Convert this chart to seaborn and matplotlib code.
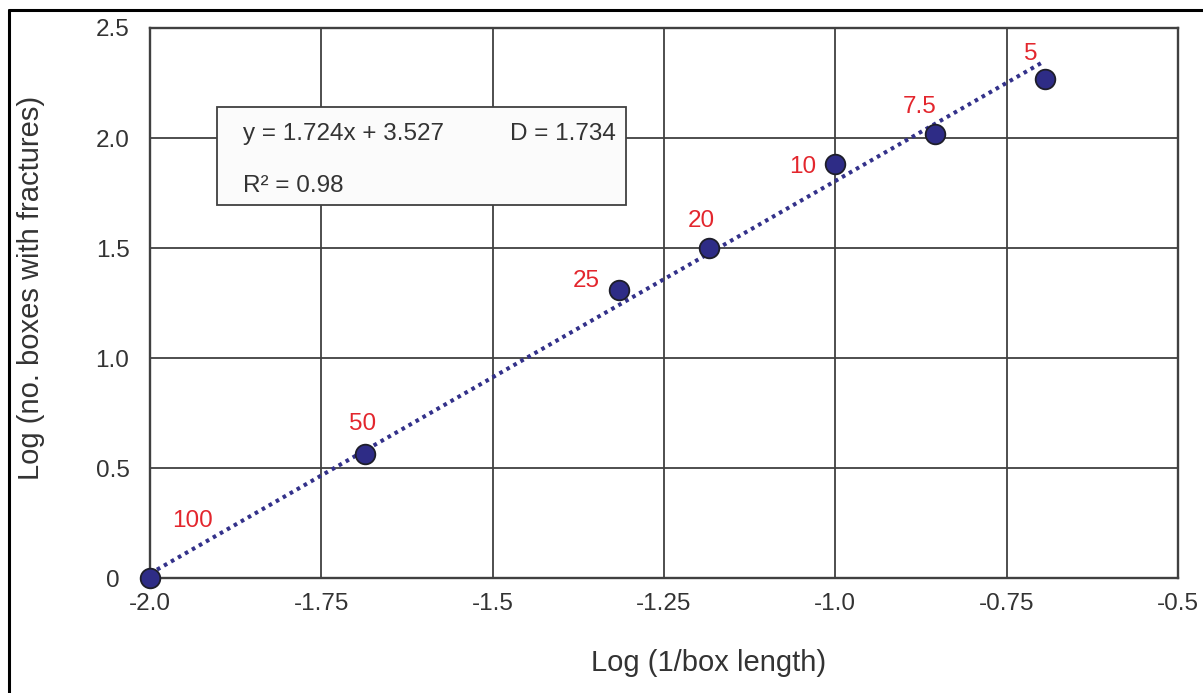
import matplotlib
matplotlib.use("Agg")
import matplotlib.pyplot as plt
import seaborn as sns
import pandas as pd
from matplotlib.patches import Rectangle
from matplotlib.lines import Line2D

# ---- data ----
box_lengths = ["100", "50", "25", "20", "10", "7.5", "5"]
log_inv_len = [-2.0, -1.687, -1.315, -1.184, -1.0, -0.855, -0.694]
log_n_boxes = [0.0, 0.563, 1.307, 1.50, 1.881, 2.018, 2.268]

label_x = [-1.938, -1.69, -1.364, -1.196, -1.047, -0.877, -0.715]
label_y = [0.26, 0.70, 1.35, 1.624, 1.87, 2.143, 2.38]

trend_x = [-2.0, -0.70]
trend_y = [0.02, 2.34]

x_ticks = [-2.0, -1.75, -1.5, -1.25, -1.0, -0.75, -0.5]
x_tick_labels = ["-2.0", "-1.75", "-1.5", "-1.25", "-1.0", "-0.75", "-0.5"]
y_ticks = [0.0, 0.5, 1.0, 1.5, 2.0, 2.5]
y_tick_labels = ["0", "0.5", "1.0", "1.5", "2.0", "2.5"]

eq_text = "y = 1.724x + 3.527"
d_text = "D = 1.734"
r2_text = "R² = 0.98"

df = pd.DataFrame({"x": log_inv_len, "y": log_n_boxes, "L": box_lengths})
trend = pd.DataFrame({"x": trend_x, "y": trend_y})

sns.set_theme(style="white")
plt.rcParams["font.family"] = ["Liberation Sans", "DejaVu Sans"]

fig = plt.figure(figsize=(12.03, 6.93), dpi=100)
ax = fig.add_axes([0.1247, 0.1659, 0.8545, 0.7937])

grid_c = "#404040"
ax.set_xlim(-2.0, -0.5)
ax.set_ylim(0, 2.5)
ax.set_xticks(x_ticks)
ax.set_xticklabels(x_tick_labels)
ax.set_yticks(y_ticks)
ax.set_yticklabels(y_tick_labels)
ax.grid(True, color=grid_c, linewidth=1.3, zorder=0)
ax.set_axisbelow(True)
for s in ax.spines.values():
    s.set_color(grid_c)
    s.set_linewidth(1.7)
    s.set_visible(True)

ax.tick_params(axis="x", length=3, color=grid_c, pad=8, labelsize=17.5, labelcolor="#333333")
ax.tick_params(axis="y", length=0, pad=27, labelsize=17.5, labelcolor="#333333")
for lab in ax.get_yticklabels():
    lab.set_horizontalalignment("center")

# trend line
sns.lineplot(data=trend, x="x", y="y", ax=ax, color="#33318a", linewidth=2.9,
             linestyle=(0, (0.9, 1.1)), zorder=3, legend=False)

# points
sns.scatterplot(data=df, x="x", y="y", ax=ax, s=200, color="#2e2c86",
                edgecolor="#1e1e2a", linewidth=1.3, zorder=4, clip_on=False, legend=False)

for t, lx, ly in zip(box_lengths, label_x, label_y):
    ax.text(lx, ly, t, color="#e3262d", fontsize=17.5, ha="center", va="center", zorder=5)

# equation box
ax.add_patch(Rectangle((0.065, 0.678), 0.398, 0.178, transform=ax.transAxes,
                       facecolor="#fbfbfb", edgecolor=grid_c, linewidth=1.3, zorder=6))
ax.text(0.090, 0.807, eq_text, transform=ax.transAxes, fontsize=17.5, color="#333333",
        ha="left", va="center", zorder=7)
ax.text(0.453, 0.807, d_text, transform=ax.transAxes, fontsize=17.5, color="#333333",
        ha="right", va="center", zorder=7)
ax.text(0.090, 0.713, r2_text, transform=ax.transAxes, fontsize=17.5, color="#333333",
        ha="left", va="center", zorder=7)

ax.set_xlabel("")
ax.set_ylabel("")
fig.text(709 / 1203, 1 - 663 / 693, "Log (1/box length)", fontsize=21, color="#333333",
         ha="center", va="center")
fig.text(31 / 1203, 1 - 288 / 693, "Log (no. boxes with fractures)", fontsize=21,
         color="#333333", ha="center", va="center", rotation=90)

# figure frame (top and left)
fig.add_artist(Line2D([9 / 1203, 1.0], [1 - 10 / 693, 1 - 10 / 693], color="black", linewidth=2.2,
                      transform=fig.transFigure))
fig.add_artist(Line2D([9 / 1203, 9 / 1203], [0.0, 1 - 10 / 693], color="black", linewidth=2.2,
                      transform=fig.transFigure))

fig.savefig("out.png", dpi=100)
